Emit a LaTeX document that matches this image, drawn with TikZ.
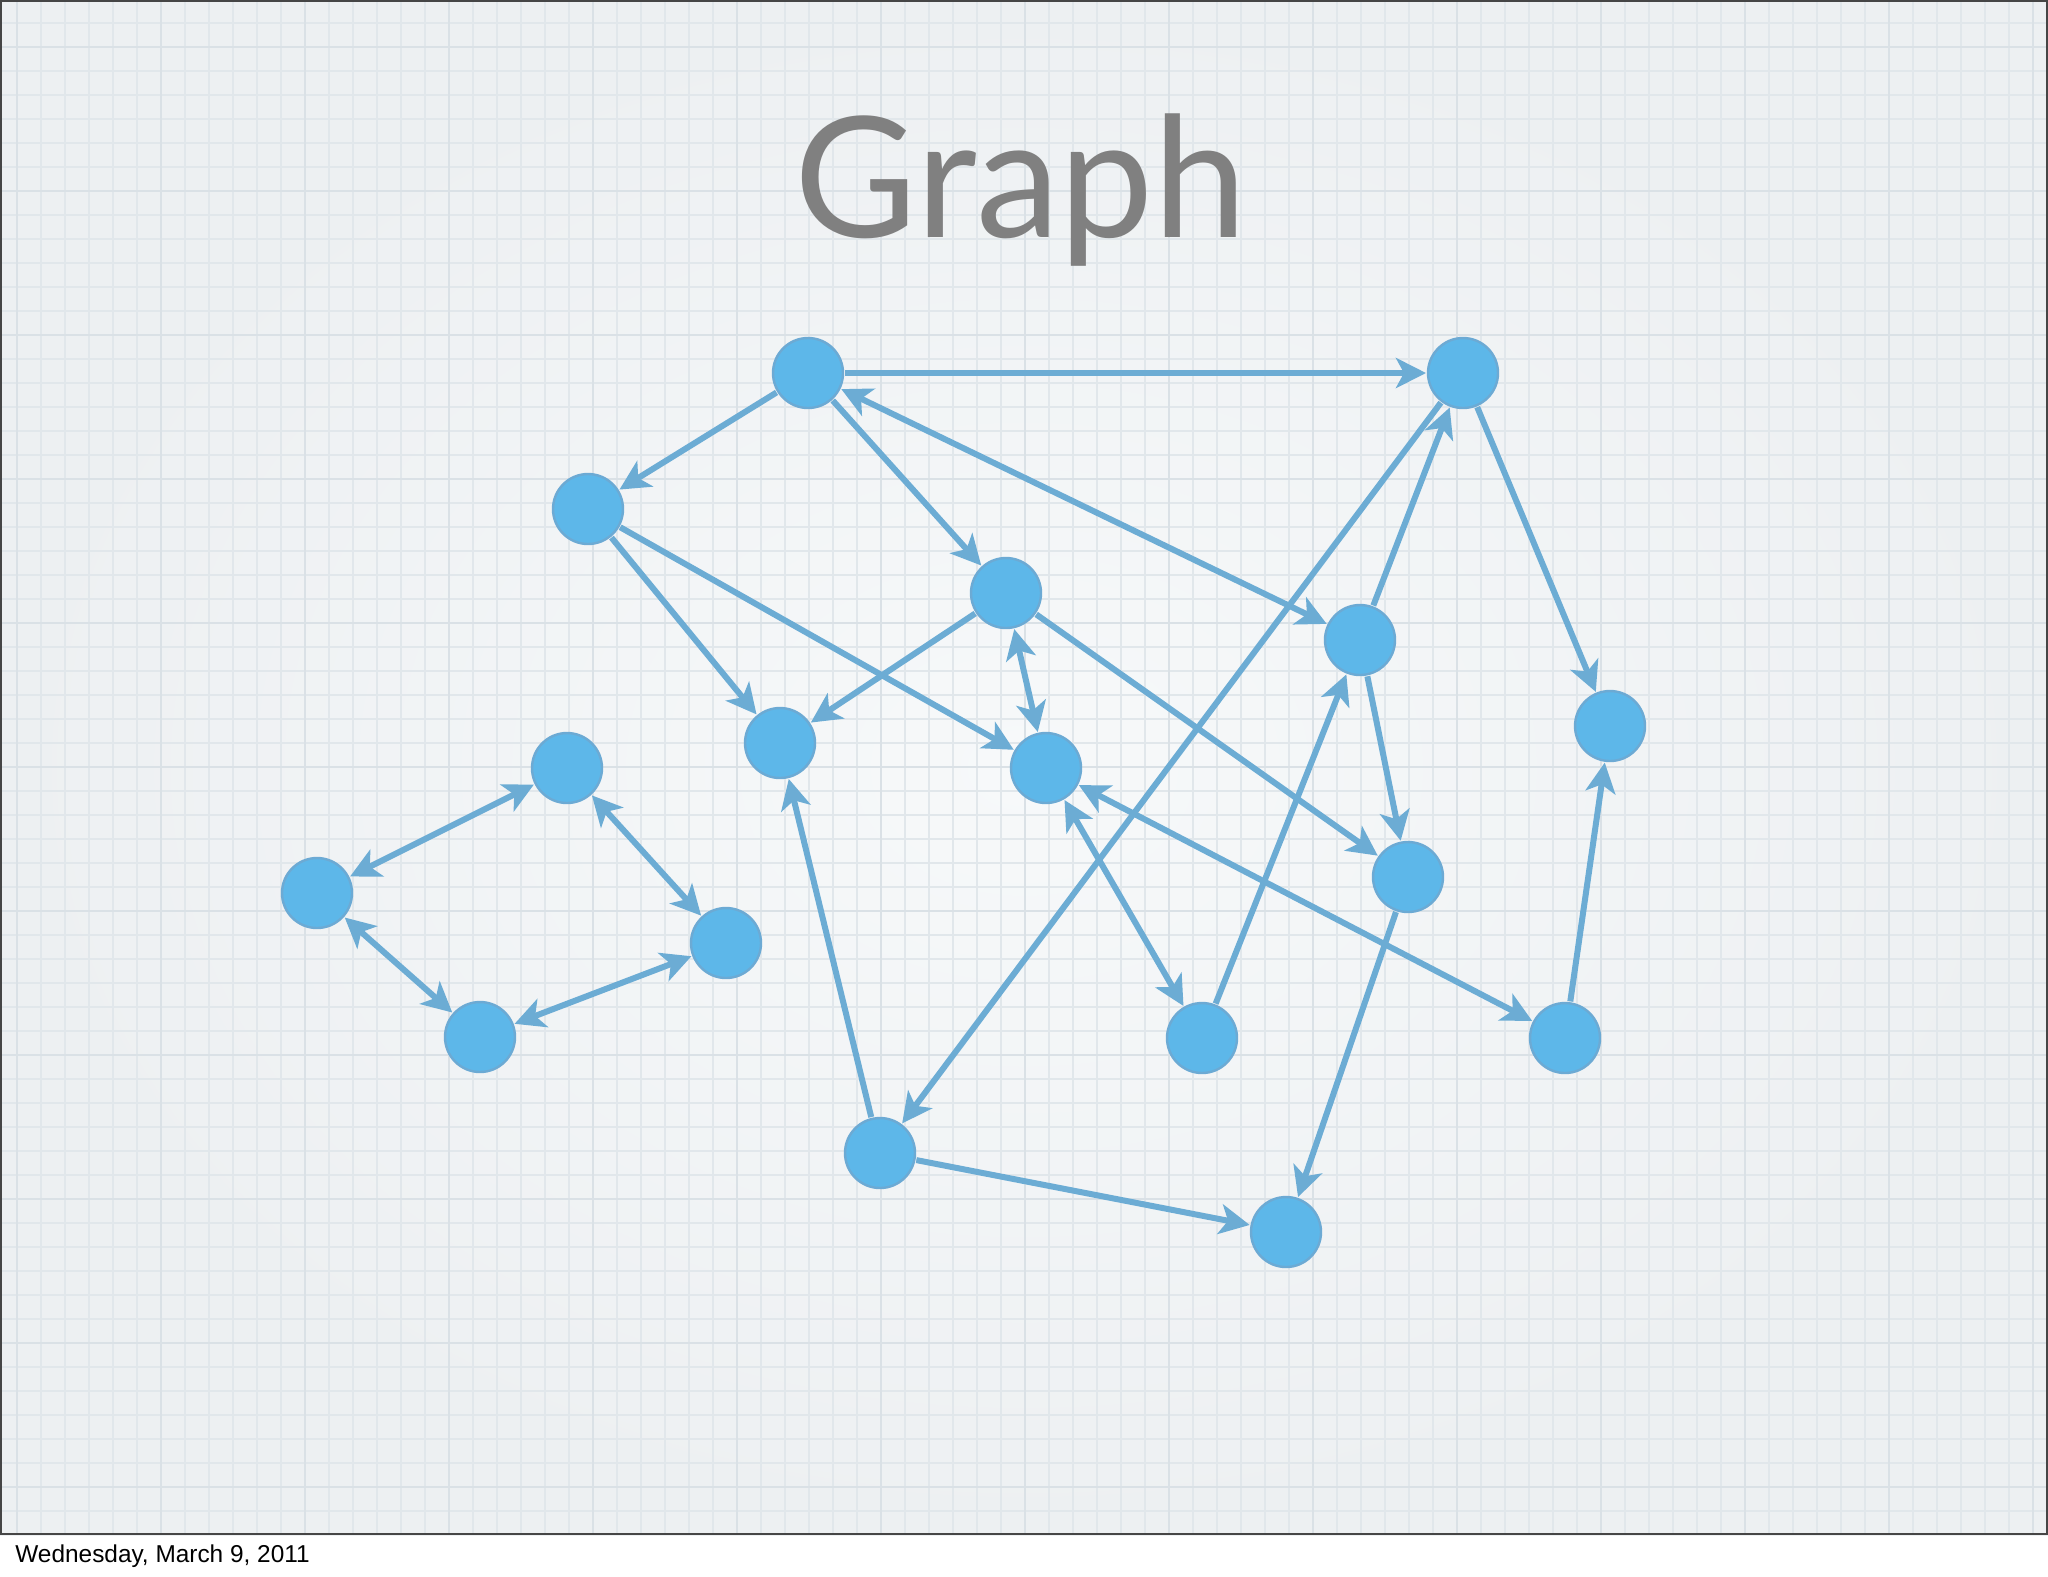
\documentclass[tikz,border=0pt]{standalone}
\usepackage{fontspec}
\setmainfont{Liberation Sans}
\newfontfamily\titlefont{Lato}
\usetikzlibrary{arrows.meta}
\definecolor{nodeblue}{RGB}{93,183,233}
\definecolor{nodeedge}{RGB}{108,170,212}
\definecolor{edgeblue}{RGB}{108,172,212}
\definecolor{gridc}{RGB}{225,231,235}
\definecolor{gridmajor}{RGB}{218,225,230}
\definecolor{bgin}{RGB}{247,249,250}
\definecolor{bgout}{RGB}{237,240,242}
\definecolor{titlegray}{RGB}{128,128,128}
\definecolor{framec}{RGB}{70,70,70}
\begin{document}
\begin{tikzpicture}[x=0.5pt,y=-0.5pt,
  vtx/.style={circle, fill=nodeblue, draw=nodeedge, line width=1.2pt, minimum size=35pt, inner sep=0pt, outer sep=1pt},
  arc/.style={draw=edgeblue, line width=3pt, -{Stealth[length=15pt,width=15pt,inset=4pt]}},
  biarc/.style={draw=edgeblue, line width=3pt, {Stealth[length=15pt,width=15pt,inset=4pt]}-{Stealth[length=15pt,width=15pt,inset=4pt]}},
  gridline/.style={draw=gridc, line width=1pt},
  gridmaj/.style={draw=gridmajor, line width=1.1pt}]
\useasboundingbox (0,0) rectangle (2048,1576);
\fill[white] (0,0) rectangle (2048,1576);
\shade[inner color=bgin, outer color=bgout] (0,0) rectangle (2048,1535);
% grid
\foreach \i in {0,...,84} {\draw[gridline] (17+24*\i,0) -- (17+24*\i,1535);}
\foreach \j in {0,...,62} {\draw[gridline] (0,23+24*\j) -- (2048,23+24*\j);}
\foreach \i in {0,...,14} {\draw[gridmaj] (17+144*\i,0) -- (17+144*\i,1535);}
\foreach \j in {0,...,10} {\draw[gridmaj] (0,47+144*\j) -- (2048,47+144*\j);}
% frame
\draw[framec, line width=1.2pt] (1,1) rectangle (2047,1534);
% title and footer
\node[anchor=base, text=titlegray, font=\titlefont\fontsize{84pt}{90pt}\selectfont, inner sep=0pt] (title) at (1021,237) {Graph};
\node[anchor=base west, font=\fontsize{12.2pt}{14pt}\selectfont, inner sep=0pt] (footer) at (15,1562) {Wednesday, March 9, 2011};
% vertices
\node[vtx] (A) at (808,373) {};
\node[vtx] (B) at (1463,373) {};
\node[vtx] (C) at (588,509) {};
\node[vtx] (D) at (1006,593) {};
\node[vtx] (E) at (1360,640) {};
\node[vtx] (F) at (1610,726) {};
\node[vtx] (G) at (780,743) {};
\node[vtx] (H) at (1046,768) {};
\node[vtx] (I) at (567,768) {};
\node[vtx] (J) at (317,893) {};
\node[vtx] (K) at (726,943) {};
\node[vtx] (L) at (1408,877) {};
\node[vtx] (M) at (480,1037) {};
\node[vtx] (N) at (1202,1038) {};
\node[vtx] (O) at (1565,1038) {};
\node[vtx] (P) at (880,1153) {};
\node[vtx] (Q) at (1286,1232) {};
% edges
\draw[arc] (A) -- (B);
\draw[arc] (A) -- (C);
\draw[arc] (A) -- (D);
\draw[biarc] (A) -- (E);
\draw[arc] (C) -- (G);
\draw[arc] (C) -- (H);
\draw[arc] (D) -- (G);
\draw[biarc] (D) -- (H);
\draw[arc] (D) -- (L);
\draw[arc] (B) -- (P);
\draw[arc] (E) -- (B);
\draw[arc] (B) -- (F);
\draw[arc] (E) -- (L);
\draw[arc] (N) -- (E);
\draw[biarc] (H) -- (N);
\draw[biarc] (H) -- (O);
\draw[arc] (O) -- (F);
\draw[arc] (L) -- (Q);
\draw[arc] (P) -- (G);
\draw[arc] (P) -- (Q);
\draw[biarc] (I) -- (J);
\draw[biarc] (I) -- (K);
\draw[biarc] (J) -- (M);
\draw[biarc] (M) -- (K);
\end{tikzpicture}
\end{document}
